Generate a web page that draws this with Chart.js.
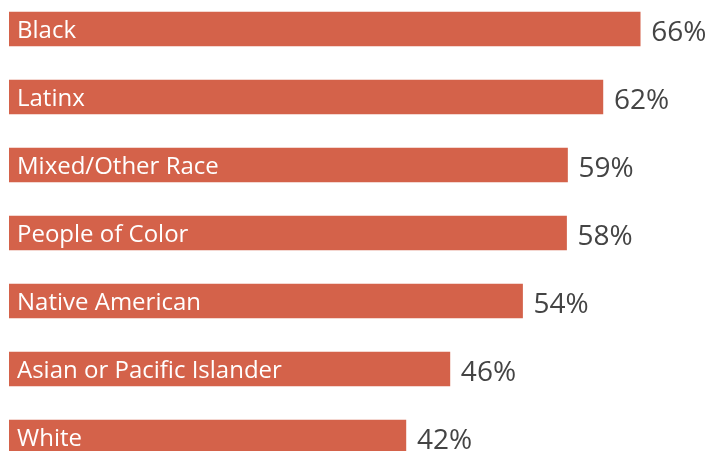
<!DOCTYPE html>
<html>
<head>
<meta charset="utf-8">
<script src="https://cdn.jsdelivr.net/npm/chart.js@4/dist/chart.umd.min.js"></script>
<style>
  html, body { margin: 0; padding: 0; background: #fff; overflow: hidden; }
  #wrap { position: absolute; left: 0; top: -5px; width: 710px; height: 476px; }
</style>
</head>
<body>
<div id="wrap"><canvas id="barChart"></canvas></div>
<script>
// categories, bar lengths and the printed labels
var groups = ["Black", "Latinx", "Mixed/Other Race", "People of Color", "Native American", "Asian or Pacific Islander", "White"];
var shares = [66.0, 62.1, 58.4, 58.3, 53.7, 46.1, 41.5];
var shareLabels = ["66%", "62%", "59%", "58%", "54%", "46%", "42%"];

var barColor = "#d4624a";
var valueColor = "#444444";

// draws the group name inside each bar and the value after it
var barText = {
    id: "barText",
    afterDatasetsDraw: function(chart) {
        var ctx = chart.ctx;
        var meta = chart.getDatasetMeta(0);
        var left = chart.chartArea.left;
        ctx.save();
        meta.data.forEach(function(bar, i) {
            ctx.textAlign = "left";
            ctx.textBaseline = "alphabetic";
            ctx.fillStyle = "#ffffff";
            ctx.font = "24px 'Open Sans'";
            ctx.fillText(groups[i], left + 8, bar.y + 8.8);
            ctx.fillStyle = valueColor;
            ctx.font = "28px 'Open Sans'";
            ctx.fillText(shareLabels[i], bar.x + 11, bar.y + 12.3);
        });
        ctx.restore();
    }
};

var ctx = document.getElementById("barChart").getContext("2d");
var chart = new Chart(ctx, {
    type: "bar",
    data: {
        labels: groups,
        datasets: [{
            data: shares,
            backgroundColor: barColor,
            borderWidth: 0,
            barThickness: 34
        }]
    },
    options: {
        indexAxis: "y",
        responsive: true,
        maintainAspectRatio: false,
        animation: false,
        layout: { padding: { left: 9, right: 0, top: 0, bottom: 0 } },
        plugins: { legend: { display: false }, tooltip: { enabled: false } },
        scales: {
            x: { display: false, min: 0, max: 73.3 },
            y: { display: false }
        }
    },
    plugins: [barText]
});
</script>
</body>
</html>
